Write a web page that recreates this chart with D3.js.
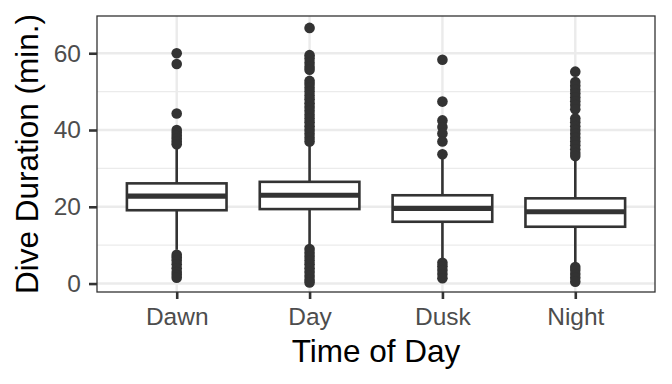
<!DOCTYPE html>
<html>
<head>
<meta charset="utf-8">
<script src="https://cdn.jsdelivr.net/npm/d3@7"></script>
<style>
  body { margin: 0; background: #fff; }
  text { font-family: "Liberation Sans", Arial, sans-serif; }
</style>
</head>
<body>
<div id="vis1"></div>
<script>
const FRAME_HEIGHT = 384;
const FRAME_WIDTH = 672;
const MARGINS = {left: 97, right: 17, top: 16, bottom: 92};

// data
const categories = ["Dawn", "Day", "Dusk", "Night"];
const q1 = [19.1, 19.4, 16.1, 14.8];
const medians = [22.8, 23.0, 19.6, 18.7];
const q3 = [26.1, 26.5, 23.0, 22.2];
const whiskerLow = [8.8, 9.6, 6.0, 4.8];
const whiskerHigh = [35.6, 36.3, 33.0, 32.4];
const outliers = [
  [60, 57.2, 44.3, 40, 39.3, 38.5, 37.8, 37, 36.3, 7.5, 6.8, 6, 5, 4, 3, 2.3, 1.5],
  [66.6, 59.5, 58.6, 57.5, 56.5, 55.7, 52.8, 52, 51, 50, 49, 48, 47, 46, 45, 44, 43, 42, 41, 40, 39, 38, 37,
   9, 8, 7, 6, 5, 4, 3, 2, 1, 0.3],
  [58.3, 47.4, 42.5, 40.8, 39.1, 37, 33.7, 5.4, 4.5, 3.5, 2.5, 1.4],
  [55.2, 52.5, 51.5, 50.5, 49.5, 48.5, 47.5, 46.5, 45.4, 43, 42, 41, 40, 39, 38, 37, 36, 35, 34, 33.2,
   4.3, 3.5, 2.5, 1.5, 0.5]
];
const yTicks = [0, 20, 40, 60];
const yMinor = [10, 30, 50];

const VIS_HEIGHT = FRAME_HEIGHT - MARGINS.top - MARGINS.bottom;
const VIS_WIDTH = FRAME_WIDTH - MARGINS.left - MARGINS.right;

const FRAME1 = d3.select("#vis1")
                  .append("svg")
                    .attr("height", FRAME_HEIGHT)
                    .attr("width", FRAME_WIDTH);

const X_SCALE = d3.scalePoint()
                  .domain(categories)
                  .range([0, VIS_WIDTH])
                  .padding(0.6);

const Y_SCALE = d3.scaleLinear()
                  .domain([-2.2, 69.7])
                  .range([VIS_HEIGHT, 0]);

const BOX_W = X_SCALE.step() * 0.75;
const INK = "#333333";
const LW = 2.6;

const G = FRAME1.append("g")
            .attr("transform", `translate(${MARGINS.left},${MARGINS.top})`);

// grid
G.selectAll(".minor")
  .data(yMinor)
  .enter()
  .append("line")
    .attr("x1", 0).attr("x2", VIS_WIDTH)
    .attr("y1", d => Y_SCALE(d)).attr("y2", d => Y_SCALE(d))
    .attr("stroke", "#ebebeb").attr("stroke-width", 1.2);

G.selectAll(".major")
  .data(yTicks)
  .enter()
  .append("line")
    .attr("x1", 0).attr("x2", VIS_WIDTH)
    .attr("y1", d => Y_SCALE(d)).attr("y2", d => Y_SCALE(d))
    .attr("stroke", "#ebebeb").attr("stroke-width", 2.4);

G.selectAll(".vmajor")
  .data(categories)
  .enter()
  .append("line")
    .attr("x1", d => X_SCALE(d)).attr("x2", d => X_SCALE(d))
    .attr("y1", 0).attr("y2", VIS_HEIGHT)
    .attr("stroke", "#ebebeb").attr("stroke-width", 2.4);

// boxes
const boxes = G.selectAll(".box")
  .data(categories)
  .enter()
  .append("g");

boxes.append("line")
  .attr("x1", d => X_SCALE(d)).attr("x2", d => X_SCALE(d))
  .attr("y1", (d, i) => Y_SCALE(whiskerHigh[i]))
  .attr("y2", (d, i) => Y_SCALE(q3[i]))
  .attr("stroke", INK).attr("stroke-width", LW);

boxes.append("line")
  .attr("x1", d => X_SCALE(d)).attr("x2", d => X_SCALE(d))
  .attr("y1", (d, i) => Y_SCALE(q1[i]))
  .attr("y2", (d, i) => Y_SCALE(whiskerLow[i]))
  .attr("stroke", INK).attr("stroke-width", LW);

boxes.append("rect")
  .attr("x", d => X_SCALE(d) - BOX_W / 2)
  .attr("width", BOX_W)
  .attr("y", (d, i) => Y_SCALE(q3[i]))
  .attr("height", (d, i) => Y_SCALE(q1[i]) - Y_SCALE(q3[i]))
  .attr("fill", "#fff")
  .attr("stroke", INK).attr("stroke-width", LW);

boxes.append("line")
  .attr("x1", d => X_SCALE(d) - BOX_W / 2).attr("x2", d => X_SCALE(d) + BOX_W / 2)
  .attr("y1", (d, i) => Y_SCALE(medians[i]))
  .attr("y2", (d, i) => Y_SCALE(medians[i]))
  .attr("stroke", INK).attr("stroke-width", 5.2);

// outliers
boxes.selectAll("circle")
  .data((d, i) => outliers[i].map(v => ({cat: d, v: v})))
  .enter()
  .append("circle")
    .attr("cx", d => X_SCALE(d.cat))
    .attr("cy", d => Y_SCALE(d.v))
    .attr("r", 5.3)
    .attr("fill", INK);

// panel border
G.append("rect")
  .attr("width", VIS_WIDTH).attr("height", VIS_HEIGHT)
  .attr("fill", "none").attr("stroke", INK).attr("stroke-width", 1.3);

// axes
const xAxis = G.append("g")
  .attr("transform", `translate(0,${VIS_HEIGHT})`)
  .call(d3.axisBottom(X_SCALE).tickSize(7).tickPadding(9));

const yAxis = G.append("g")
  .call(d3.axisLeft(Y_SCALE).tickValues(yTicks).tickSize(8).tickPadding(8));

[xAxis, yAxis].forEach(a => {
  a.select(".domain").remove();
  a.selectAll(".tick line").attr("stroke", INK).attr("stroke-width", LW);
  a.selectAll(".tick text")
    .attr("fill", "#4d4d4d")
    .style("font-size", "24.5px")
    .style("font-family", "Liberation Sans, Arial, sans-serif");
});

// titles
FRAME1.append("text")
  .attr("x", MARGINS.left + VIS_WIDTH / 2)
  .attr("y", 362)
  .attr("text-anchor", "middle")
  .style("font-size", "31.5px")
  .text("Time of Day");

FRAME1.append("text")
  .attr("transform", `translate(37.5,${MARGINS.top + VIS_HEIGHT / 2}) rotate(-90)`)
  .attr("text-anchor", "middle")
  .style("font-size", "31.5px")
  .text("Dive Duration (min.)");
</script>
</body>
</html>
